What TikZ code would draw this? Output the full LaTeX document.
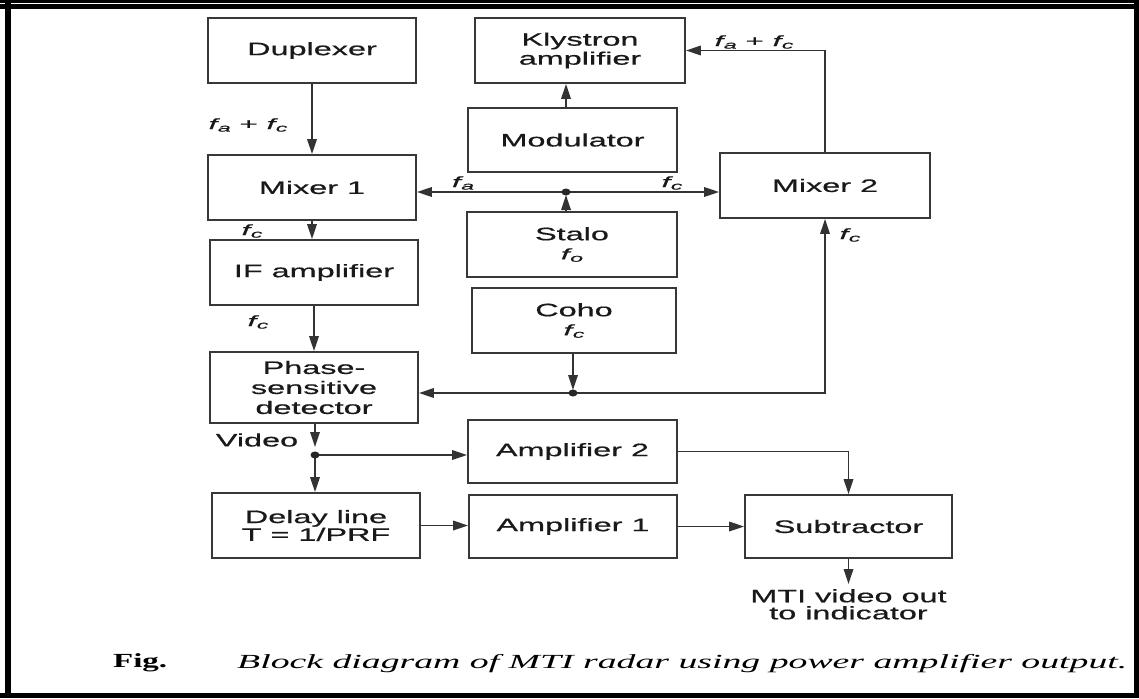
\documentclass[tikz,border=0pt]{standalone}
\usepackage{fontspec}
\usepackage{graphicx}
\usetikzlibrary{arrows.meta}
\newfontfamily\boxfont[FakeStretch=1.8,FakeBold=0.6]{Liberation Sans}
\newfontfamily\lblfont[FakeStretch=2.1,FakeBold=0.5]{Liberation Sans}
\newfontfamily\capfont{Liberation Serif}
\newcommand{\fq}[1]{{\lblfont\fontsize{15}{15}\selectfont\itshape f\kern0.5pt\raisebox{-2.5pt}{\fontsize{11}{11}\selectfont #1}}}
\tikzset{
  blk/.style 2 args={draw=black!78, line width=1.8pt, fill=white, minimum width=#1pt, minimum height=#2pt,
    inner sep=0pt, align=center, font=\boxfont\fontsize{18}{19}\selectfont, text=black!90},
  arr/.style={draw=black!80, line width=1.7pt, -{Triangle[length=15pt,width=9.5pt]}},
  lbl/.style={inner sep=0pt, text=black!90, font=\lblfont\fontsize{15}{15}\selectfont},
  txt/.style={inner sep=0pt, align=center, font=\boxfont\fontsize{18}{17}\selectfont, text=black!90},
  dot/.style={fill=black!85}
}
\begin{document}
\begin{tikzpicture}[x=1pt,y=-1pt]
\useasboundingbox (0,0) rectangle (1139,698);
\fill[white] (0,0) rectangle (1139,698);
% frame
\fill[black] (0,0) rectangle (1139,3);
\fill[black] (0,4.5) rectangle (1139,9.5);
\fill[black] (5,0) rectangle (11,698);
\fill[black] (1134,0) rectangle (1139,698);
\fill[black] (0,692.5) rectangle (1139,698);

% blocks
\node[blk={208}{65}] (dup) at (312,50.5) {Duplexer};
\node[blk={210}{65}] (kly) at (580,50.5) {Klystron\\amplifier};
\node[blk={209}{64}] (mod) at (572.5,140) {Modulator};
\node[blk={208}{65}] (mix1) at (312,187.5) {Mixer 1};
\node[blk={210}{65}] (mix2) at (825,185.5) {Mixer 2};
\node[blk={210}{65}] (stalo) at (572,244.5) {Stalo\\\fq{o}};
\node[blk={208}{65}] (ifa) at (314,272.5) {IF amplifier};
\node[blk={204}{65}] (coho) at (574,320.5) {Coho\\\fq{c}};
\node[blk={208}{71}, font=\boxfont\fontsize{18}{20}\selectfont] (psd) at (314,387.5) {Phase-\\sensitive\\detector};
\node[blk={209}{63}] (amp2) at (572.5,451.5) {Amplifier 2};
\node[blk={208}{65}, font=\boxfont\fontsize{18}{16}\selectfont] (dly) at (316,525.5) {Delay line\\T = 1/PRF};
\node[blk={208}{63}] (amp1) at (573,526.5) {Amplifier 1};
\node[blk={207}{63}] (sub) at (848.5,526.5) {Subtractor};

% junctions
\coordinate (d1) at (566,192);
\coordinate (d2) at (573,393);
\coordinate (d3) at (315,455);
\coordinate (out) at (848.5,584);

% connectors
\draw[arr] (dup) -- (mix1);
\draw[arr] (mix1.south) -- (mix1.south |- ifa.north);
\draw[arr] (ifa.south) -- (ifa.south |- psd.north);
\draw[arr] (mod.north -| d1) -- (kly.south -| d1);
\draw[arr, shorten >=3pt] (stalo.north -| d1) -- (d1);
\draw[arr] (d1) -- (d1 -| mix1.east);
\draw[arr] (d1) -- (d1 -| mix2.west);
\draw[arr] (mix2.north) |- (kly.east);
\draw[arr, shorten >=3pt] (coho.south -| d2) -- (d2);
\draw[arr] (d2) -- (d2 -| psd.east);
\draw[arr] (d2) -| (mix2.south);
\draw[arr, shorten >=8pt] (psd.south -| d3) -- (d3);
\draw[arr] (d3) -- (d3 -| amp2.west);
\draw[arr] (d3) -- (d3 |- dly.north);
\draw[arr] (dly.east) -- (dly.east -| amp1.west);
\draw[arr] (amp1) -- (sub);
\draw[arr] (amp2.east) -| (sub.north);
\draw[arr] (sub.south) -- (out);
\fill[dot] (d1) ellipse (4.5pt and 3.5pt);
\fill[dot] (d2) ellipse (4.5pt and 3.5pt);
\fill[dot] (d3) ellipse (4.5pt and 3.5pt);

% labels
\node[lbl] (l1) at (248,125) {\fq{a} + \fq{c}};
\node[lbl] (l2) at (252,231) {\fq{c}};
\node[lbl] (l3) at (258,322) {\fq{c}};
\node[lbl] (l4) at (463,183) {\fq{a}};
\node[lbl] (l5) at (672,183) {\fq{c}};
\node[lbl] (l6) at (754,42) {\fq{a} + \fq{c}};
\node[lbl] (l7) at (850,235) {\fq{c}};
\node[txt] (vid) at (257,440) {Video};
\node[txt, anchor=north] (mti) at ([yshift=-5pt]out) {MTI video out\\to indicator};

% caption
\node[inner sep=0pt, anchor=west] (fig) at (113,663) {\resizebox{54pt}{\height}{\capfont\fontsize{20}{20}\selectfont\bfseries Fig.}};
\node[inner sep=0pt, anchor=west] (cap) at (237,664) {\resizebox{890pt}{\height}{\capfont\fontsize{20}{20}\selectfont\itshape Block diagram of MTI radar using power amplifier output.}};
\end{tikzpicture}
\end{document}
